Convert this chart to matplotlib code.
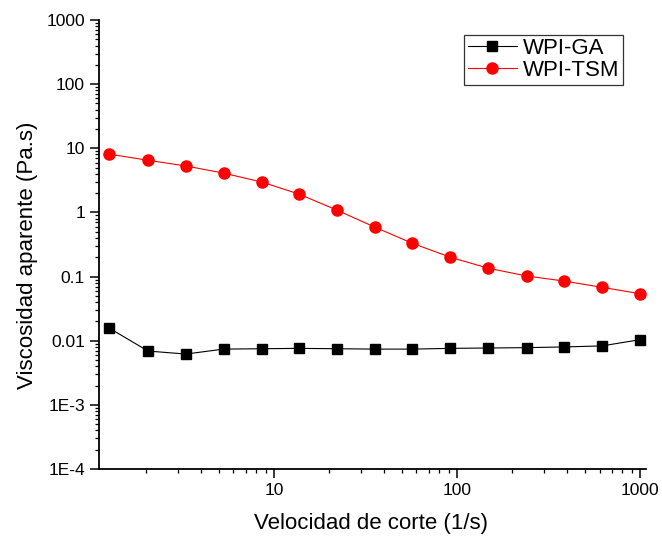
import numpy as np
import matplotlib
matplotlib.use("Agg")
import matplotlib.pyplot as plt
from matplotlib.ticker import FixedLocator, FixedFormatter, LogLocator, NullFormatter

plt.rcParams['font.family'] = ['Liberation Sans', 'DejaVu Sans']

# shear rate (1/s)
shear_rate = [1.26, 2.05, 3.3, 5.3, 8.6, 13.7, 22, 35.5, 57, 92, 148, 240, 385, 620, 1000]
# apparent viscosity (Pa.s)
visc_ga = [0.0157, 0.0069, 0.0062, 0.0074, 0.0075, 0.0076, 0.0075, 0.0074,
           0.0074, 0.0076, 0.0077, 0.0078, 0.0080, 0.0083, 0.0104]
visc_tsm = [8.1, 6.5, 5.3, 4.1, 2.97, 1.93, 1.09, 0.59, 0.33, 0.20,
            0.135, 0.102, 0.085, 0.068, 0.054]

y_ticks = [1e-4, 1e-3, 0.01, 0.1, 1, 10, 100, 1000]
y_tick_labels = ['1E-4', '1E-3', '0.01', '0.1', '1', '10', '100', '1000']
x_ticks = [10, 100, 1000]
x_tick_labels = ['10', '100', '1000']

fig = plt.figure(figsize=(6.62, 5.37), dpi=100)
ax = fig.add_axes([0.1495, 0.1266, 0.8265, 0.8362])

ax.plot(shear_rate, visc_ga, color='black', lw=0.8, marker='s', ms=7,
        label='WPI-GA')
ax.plot(shear_rate, visc_tsm, color='red', lw=0.8, marker='o', ms=8,
        label='WPI-TSM')

ax.set_xscale('log')
ax.set_yscale('log')
ax.set_xlim(1.106, 1078)
ax.set_ylim(1e-4, 1000)

ax.yaxis.set_major_locator(FixedLocator(y_ticks))
ax.yaxis.set_major_formatter(FixedFormatter(y_tick_labels))
ax.yaxis.set_minor_locator(LogLocator(base=10, subs=np.arange(2, 10), numticks=20))
ax.yaxis.set_minor_formatter(NullFormatter())
ax.xaxis.set_major_locator(FixedLocator(x_ticks))
ax.xaxis.set_major_formatter(FixedFormatter(x_tick_labels))
ax.xaxis.set_minor_locator(LogLocator(base=10, subs=np.arange(2, 10), numticks=20))
ax.xaxis.set_minor_formatter(NullFormatter())

for side in ['top', 'right']:
    ax.spines[side].set_visible(False)
for side in ['left', 'bottom']:
    ax.spines[side].set_linewidth(1.3)

ax.tick_params(which='major', direction='out', length=6.5, width=1.1, labelsize=12.5)
ax.tick_params(which='minor', direction='out', length=3, width=0.9)

ax.set_xlabel('Velocidad de corte (1/s)', fontsize=16)
ax.set_ylabel('Viscosidad aparente (Pa.s)', fontsize=16)
ax.xaxis.set_label_coords(0.498, -0.099)
ax.yaxis.set_label_coords(-0.111, 0.477)

leg = ax.legend(loc='upper right', bbox_to_anchor=(0.958, 0.967), fontsize=16,
                frameon=True, fancybox=False, edgecolor='black',
                borderpad=0.15, labelspacing=0.05, handlelength=2.2,
                handletextpad=0.3, borderaxespad=0)
leg.get_frame().set_linewidth(0.9)

fig.savefig('out.png', dpi=100)
